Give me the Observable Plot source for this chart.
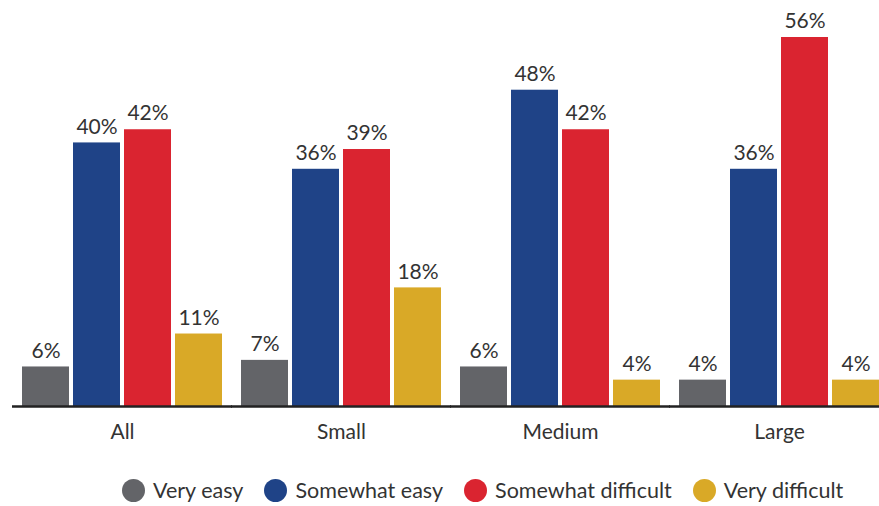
<!DOCTYPE html>
<html>
<head>
<meta charset="utf-8">
<script src="https://cdn.jsdelivr.net/npm/d3@7"></script>
<script src="https://cdn.jsdelivr.net/npm/@observablehq/plot@0.6"></script>
<style>
  body { margin: 0; background: #fff; font-family: Lato, "Open Sans", sans-serif; }
  #legend { display: flex; align-items: center; margin-top: 17px; padding-left: 122px; font-size: 21.5px; color: #333; }
  .item { display: flex; align-items: center; margin-right: 21px; }
  .dot { width: 23px; height: 23px; border-radius: 50%; margin-right: 8px; display: inline-block; }
</style>
</head>
<body>
<div id="chart"></div>
<div id="legend"></div>
<script>
const groups = ["All", "Small", "Medium", "Large"];
const series = ["Very easy", "Somewhat easy", "Somewhat difficult", "Very difficult"];
const colors = ["#636468", "#1f4387", "#da2430", "#d9a927"];
const veryEasy = [6, 7, 6, 4];
const somewhatEasy = [40, 36, 48, 36];
const somewhatDifficult = [42, 39, 42, 56];
const veryDifficult = [11, 18, 4, 4];

const seriesValues = [veryEasy, somewhatEasy, somewhatDifficult, veryDifficult];
const data = [];
groups.forEach((g, gi) => {
  series.forEach((s, si) => {
    data.push({group: g, series: s, value: seriesValues[si][gi]});
  });
});

const plot = Plot.plot({
  width: 879,
  height: 460,
  marginTop: 37,
  marginBottom: 54,
  marginLeft: 20,
  marginRight: -2,
  style: {fontFamily: "Lato, 'Open Sans', sans-serif", fontSize: "21px", color: "#333"},
  fx: {domain: groups, paddingInner: 0.086, paddingOuter: 0, label: null, axis: "bottom", tickSize: 0, tickPadding: 18},
  x: {domain: series, paddingInner: 0.085, paddingOuter: 0, axis: null},
  y: {domain: [0, 56], axis: null},
  color: {domain: series, range: colors},
  marks: [
    Plot.barY(data, {fx: "group", x: "series", y: "value", fill: "series"}),
    Plot.text(data, {fx: "group", x: "series", y: "value", text: d => d.value + "%", dy: -16, fontSize: 21, fill: "#333"}),
    Plot.ruleY([0], {stroke: "#222", strokeWidth: 2.5, insetLeft: -10, insetRight: -10})
  ]
});
document.getElementById("chart").appendChild(plot);

const legend = d3.select("#legend");
series.forEach((s, i) => {
  const item = legend.append("div").attr("class", "item");
  item.append("span").attr("class", "dot").style("background", colors[i]);
  item.append("span").text(s);
});
</script>
</body>
</html>
